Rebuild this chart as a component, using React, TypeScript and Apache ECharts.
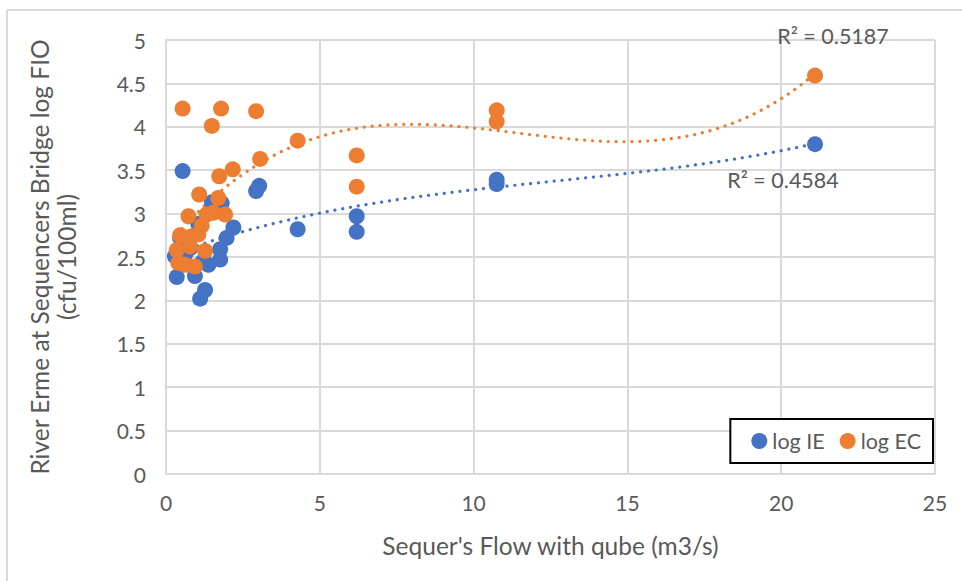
import React, { useEffect, useRef } from "react";
import * as echarts from "echarts";

// Flow (m3/s) vs log faecal indicator organisms at Sequencers Bridge
const ieFlow = [0.54, 3.03, 2.93, 1.49, 1.81, 4.28, 2.19, 1.97, 1.76, 1.76, 1.38, 0.35, 0.94, 1.27, 1.11, 1.05, 0.62, 0.29, 0.78, 0.46, 1.2, 6.2, 6.2, 10.75, 10.75, 21.1];
const ieLog = [3.49, 3.32, 3.26, 3.13, 3.12, 2.82, 2.84, 2.72, 2.59, 2.47, 2.41, 2.27, 2.28, 2.12, 2.02, 2.88, 2.53, 2.51, 2.6, 2.72, 2.45, 2.97, 2.79, 3.39, 3.34, 3.8];

const ecFlow = [0.54, 1.79, 2.93, 1.49, 4.28, 3.06, 2.17, 1.73, 1.08, 1.7, 0.73, 1.32, 1.92, 1.54, 1.16, 0.46, 0.84, 1.05, 0.35, 0.78, 1.27, 0.4, 0.62, 0.94, 6.2, 6.2, 10.75, 10.75, 21.1];
const ecLog = [4.21, 4.21, 4.18, 4.01, 3.84, 3.63, 3.51, 3.43, 3.22, 3.18, 2.97, 2.99, 2.99, 3.01, 2.86, 2.75, 2.74, 2.76, 2.58, 2.62, 2.57, 2.43, 2.41, 2.39, 3.67, 3.31, 4.19, 4.06, 4.59];

const seriesNames = ["log IE", "log EC"];
const rSquared = ["R² = 0.4584", "R² = 0.5187"];

const xTicks = { min: 0, max: 25, interval: 5 };
const yTicks = { min: 0, max: 5, interval: 0.5 };

const BLUE = "#4472C4";
const ORANGE = "#ED7D31";
const TEXT = "#595959";
const GRID = "#d9d9d9";
const FONT = "Lato, 'Open Sans', sans-serif";

// Least-squares polynomial fitted to the observations (normal equations)
function polyFit(xs: number[], ys: number[], order: number): number[] {
  const n = order + 1;
  const A: number[][] = Array.from({ length: n }, () => new Array(n + 1).fill(0));
  for (let k = 0; k < xs.length; k++) {
    for (let i = 0; i < n; i++) {
      for (let j = 0; j < n; j++) A[i][j] += Math.pow(xs[k], i + j);
      A[i][n] += ys[k] * Math.pow(xs[k], i);
    }
  }
  for (let c = 0; c < n; c++) {
    let p = c;
    for (let r = c + 1; r < n; r++) if (Math.abs(A[r][c]) > Math.abs(A[p][c])) p = r;
    [A[c], A[p]] = [A[p], A[c]];
    for (let r = 0; r < n; r++) {
      if (r === c) continue;
      const f = A[r][c] / A[c][c];
      for (let j = c; j <= n; j++) A[r][j] -= f * A[c][j];
    }
  }
  return A.map((row, i) => row[n] / row[i]);
}

// Order-3 polynomial trendline sampled over the observed flow range
function trend(xs: number[], ys: number[]): number[][] {
  const coef = polyFit(xs, ys, 3);
  const lo = Math.min(...xs);
  const hi = Math.max(...xs);
  const pts: number[][] = [];
  const steps = 300;
  for (let s = 0; s <= steps; s++) {
    const x = lo + ((hi - lo) * s) / steps;
    const y = coef.reduce((acc, c, i) => acc + c * Math.pow(x, i), 0);
    pts.push([x, y]);
  }
  return pts;
}

const zip = (a: number[], b: number[]) => a.map((v, i) => [v, b[i]]);

export default function App() {
  const ref = useRef<HTMLDivElement>(null);

  useEffect(() => {
    if (!ref.current) return;
    const chart = echarts.init(ref.current, undefined, { renderer: "svg" });
    const dotted = (color: string) => ({
      color,
      width: 3.2,
      type: [0.1, 7.8] as number[],
      cap: "round" as const,
    });
    chart.setOption({
      animation: false,
      backgroundColor: "#fff",
      grid: { left: 166, right: 27, top: 40, bottom: 107, containLabel: false },
      xAxis: {
        type: "value",
        min: xTicks.min,
        max: xTicks.max,
        interval: xTicks.interval,
        name: "Sequer's Flow with qube (m3/s)",
        nameLocation: "middle",
        nameGap: 59,
        nameTextStyle: { color: TEXT, fontSize: 24.5, fontFamily: FONT },
        axisLine: { show: true, lineStyle: { color: GRID, width: 2 } },
        axisTick: { show: false },
        axisLabel: { color: TEXT, fontSize: 21, margin: 18, fontFamily: FONT },
        splitLine: { show: true, lineStyle: { color: GRID, width: 2 } },
      },
      yAxis: {
        type: "value",
        min: yTicks.min,
        max: yTicks.max,
        interval: yTicks.interval,
        name: "River Erme at Sequencers Bridge log FIO\n(cfu/100ml)",
        nameLocation: "middle",
        nameRotate: 90,
        nameGap: 86,
        nameTextStyle: { color: TEXT, fontSize: 24.5, fontFamily: FONT, lineHeight: 27 },
        axisLine: { show: true, lineStyle: { color: GRID, width: 2 } },
        axisTick: { show: false },
        axisLabel: { color: TEXT, fontSize: 21, margin: 20, fontFamily: FONT },
        splitLine: { show: true, lineStyle: { color: GRID, width: 2 } },
      },
      legend: {
        data: seriesNames,
        right: 29,
        top: 419,
        orient: "horizontal",
        icon: "circle",
        itemWidth: 16,
        itemHeight: 16,
        itemGap: 15,
        padding: [11, 12, 11, 21],
        borderColor: "#000",
        borderWidth: 2,
        backgroundColor: "#fff",
        textStyle: { color: TEXT, fontSize: 21.5, fontFamily: FONT },
      },
      series: [
        {
          name: "trend IE",
          type: "line",
          data: trend(ieFlow, ieLog),
          showSymbol: false,
          symbol: "none",
          lineStyle: dotted(BLUE),
          z: 3,
          silent: true,
        },
        {
          name: "trend EC",
          type: "line",
          data: trend(ecFlow, ecLog),
          showSymbol: false,
          symbol: "none",
          lineStyle: dotted(ORANGE),
          z: 3,
          silent: true,
        },
        {
          name: seriesNames[0],
          type: "scatter",
          data: zip(ieFlow, ieLog),
          symbolSize: 16,
          itemStyle: { color: BLUE, opacity: 1 },
          z: 4,
        },
        {
          name: seriesNames[1],
          type: "scatter",
          data: zip(ecFlow, ecLog),
          symbolSize: 16,
          itemStyle: { color: ORANGE, opacity: 1 },
          z: 5,
        },
      ],
      graphic: [
        { type: "line", shape: { x1: 7, y1: 10, x2: 962, y2: 10 }, style: { stroke: GRID, lineWidth: 2 } },
        { type: "line", shape: { x1: 7, y1: 10, x2: 7, y2: 581 }, style: { stroke: GRID, lineWidth: 2 } },
        {
          type: "text",
          x: 833,
          y: 36,
          style: { text: rSquared[1], fill: TEXT, fontSize: 21.5, fontFamily: FONT, align: "center", verticalAlign: "middle" },
          z: 10,
        },
        {
          type: "text",
          x: 783,
          y: 180,
          style: { text: rSquared[0], fill: TEXT, fontSize: 21.5, fontFamily: FONT, align: "center", verticalAlign: "middle" },
          z: 10,
        },
      ],
    });
    return () => chart.dispose();
  }, []);

  return (
    <div
      ref={ref}
      style={{ position: "absolute", left: 0, top: 0, width: 962, height: 581 }}
    />
  );
}
